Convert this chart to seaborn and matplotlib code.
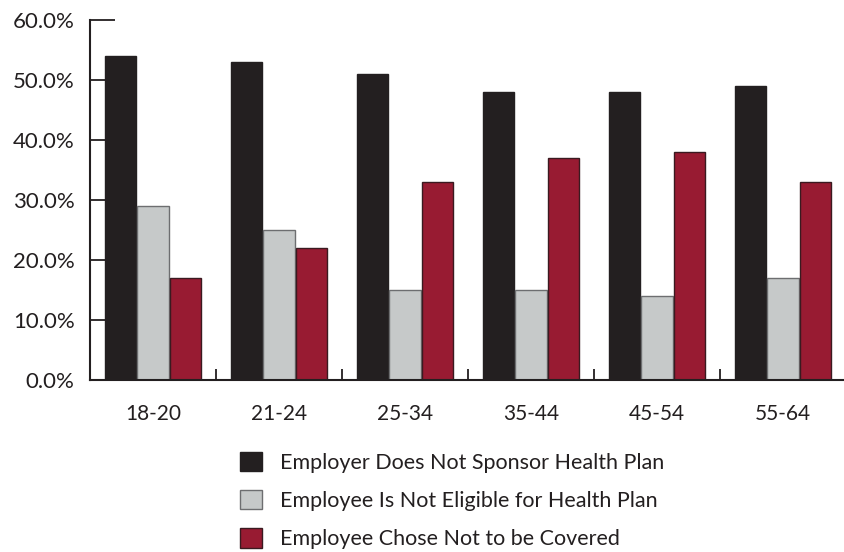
import matplotlib
matplotlib.use("Agg")
import matplotlib.pyplot as plt
import seaborn as sns
import pandas as pd
from matplotlib.ticker import FuncFormatter, FixedLocator

age_groups = ["18-20", "21-24", "25-34", "35-44", "45-54", "55-64"]
series_names = ["Employer Does Not Sponsor Health Plan",
                "Employee Is Not Eligible for Health Plan",
                "Employee Chose Not to be Covered"]
not_sponsor = [54, 53, 51, 48, 48, 49]
not_eligible = [29, 25, 15, 15, 14, 17]
chose_not = [17, 22, 33, 37, 38, 33]
colors = ["#231f20", "#c6c9c9", "#981b32"]
edges = ["#231f20", "#6d6e70", "#3a1a20"]

rows = []
for name, vals in zip(series_names, [not_sponsor, not_eligible, chose_not]):
    for g, v in zip(age_groups, vals):
        rows.append({"age": g, "series": name, "value": v})
df = pd.DataFrame(rows)

sns.set_theme(style="white")
plt.rcParams["font.family"] = ["Lato", "DejaVu Sans"]

fig = plt.figure(figsize=(8.44, 5.52), dpi=100)
ax = fig.add_axes([90 / 844, 172 / 552, 756 / 844, 360 / 552])

sns.barplot(data=df, x="age", y="value", hue="series", order=age_groups,
            hue_order=series_names, palette=colors, width=0.78, gap=0.04,
            saturation=1, ax=ax, legend=True)

for cont, ec in zip(ax.containers, edges):
    for p in cont:
        p.set_edgecolor(ec)
        p.set_linewidth(1.0)

ax.set_xlim(-0.5, 5.5)
ax.set_ylim(0, 60)
ax.set_xlabel("")
ax.set_ylabel("")
for s in ["top", "right"]:
    ax.spines[s].set_visible(False)
for s in ["left", "bottom"]:
    ax.spines[s].set_color("#231f20")
    ax.spines[s].set_linewidth(1.5)

ax.set_yticks(range(0, 61, 10))
ax.yaxis.set_major_formatter(FuncFormatter(lambda v, p: f"{v:.1f}%"))
ax.tick_params(axis="y", direction="in", length=13, width=1.3, color="#231f20",
               labelsize=16, pad=11, labelcolor="#231f20", left=True)
ax.yaxis.get_major_ticks()[-1].tick1line.set_markersize(18)
ax.yaxis.get_major_ticks()[0].tick1line.set_visible(False)

ax.tick_params(axis="x", which="major", length=0, labelsize=15, pad=17,
               labelcolor="#231f20")
ax.xaxis.set_minor_locator(FixedLocator([0.5, 1.5, 2.5, 3.5, 4.5]))
ax.tick_params(axis="x", which="minor", direction="in", length=8, width=1.3,
               color="#231f20", bottom=True)

handles, labels = ax.get_legend_handles_labels()
for h, ec in zip(handles, edges):
    h.set_edgecolor(ec)
    h.set_linewidth(1.0)
leg = ax.legend(handles, labels, loc="upper left", bbox_to_anchor=(240 / 844, (552 - 452) / 552),
                bbox_transform=fig.transFigure, frameon=False, fontsize=15.5,
                handlelength=1.0, handleheight=1.0, handletextpad=0.85,
                labelspacing=0.8, borderaxespad=0, borderpad=0)
for t in leg.get_texts():
    t.set_color("#231f20")

fig.savefig("out.png", dpi=100)
